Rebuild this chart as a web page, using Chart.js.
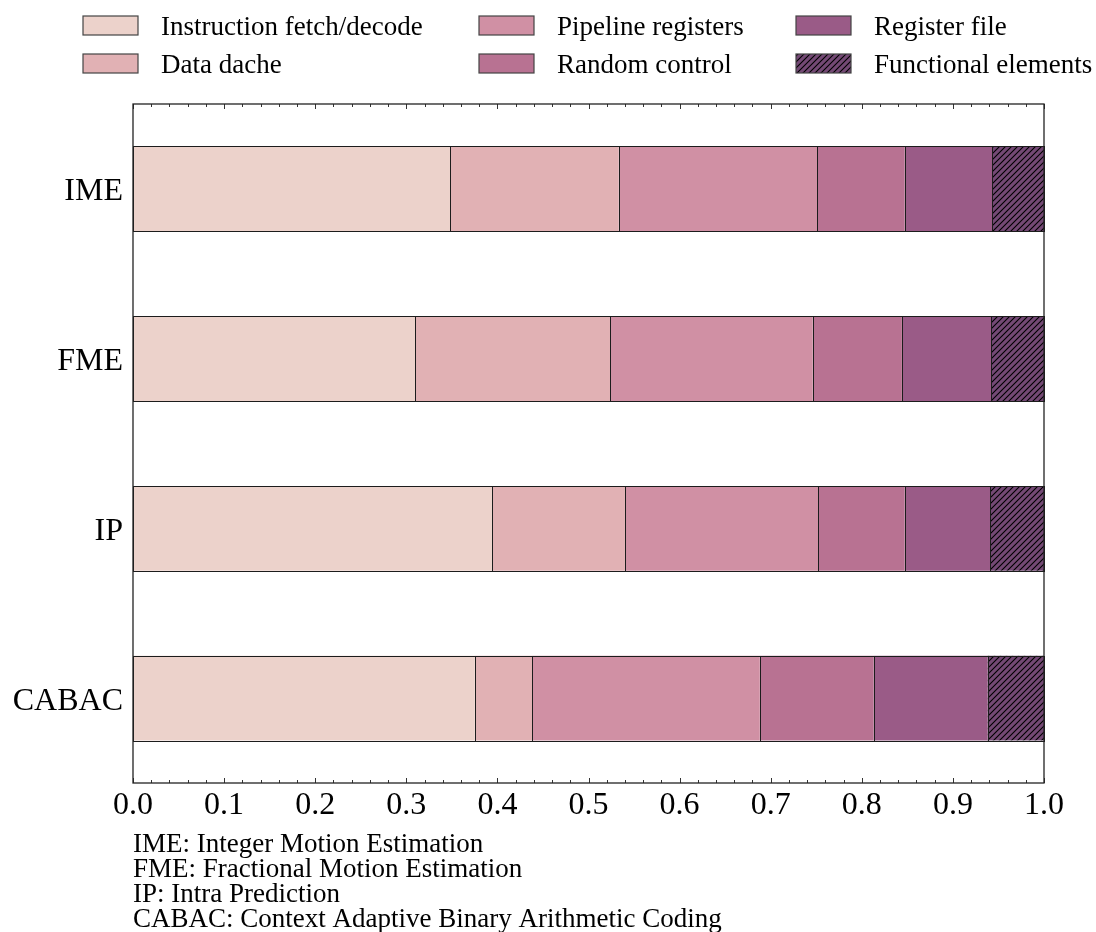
<!DOCTYPE html>
<html>
<head>
<meta charset="utf-8">
<script src="https://cdn.jsdelivr.net/npm/chart.js@4/dist/chart.umd.min.js"></script>
<style>
  html, body { margin: 0; padding: 0; background: #fff; }
  #wrap { width: 1096px; height: 932px; }
</style>
</head>
<body>
<div id="wrap"><canvas id="c" width="1096" height="932"></canvas></div>
<script>
// Area breakdown per processing module (fractions of total)
const modules = ['IME', 'FME', 'IP', 'CABAC'];
const componentNames = ['Instruction fetch/decode', 'Data dache', 'Pipeline registers',
                        'Random control', 'Register file', 'Functional elements'];
const instructionFetch = [0.348, 0.310, 0.394, 0.375];
const dataCache        = [0.185, 0.214, 0.146, 0.063];
const pipelineRegs     = [0.218, 0.222, 0.212, 0.250];
const randomControl    = [0.096, 0.098, 0.095, 0.125];
const registerFile     = [0.096, 0.098, 0.094, 0.125];
const functionalElems  = [0.057, 0.058, 0.059, 0.062];
const xTicks = [0.0, 0.1, 0.2, 0.3, 0.4, 0.5, 0.6, 0.7, 0.8, 0.9, 1.0];
const footnotes = [
  'IME: Integer Motion Estimation',
  'FME: Fractional Motion Estimation',
  'IP: Intra Prediction',
  'CABAC: Context Adaptive Binary Arithmetic Coding'
];

const palette = ['#ecd2cb', '#e1b1b4', '#d090a4', '#b87292', '#9a5b87', '#744975'];
const FONT = "'Liberation Serif', 'Times New Roman', serif";

// diagonal hatch fill for the last component
function makeHatch(bg) {
  const s = 6;
  const t = document.createElement('canvas');
  t.width = s; t.height = s;
  const g = t.getContext('2d');
  g.fillStyle = bg;
  g.fillRect(0, 0, s, s);
  g.strokeStyle = '#000';
  g.lineWidth = 1.1;
  g.beginPath();
  g.moveTo(-1, s + 1); g.lineTo(s + 1, -1);
  g.moveTo(-1, 1); g.lineTo(1, -1);
  g.moveTo(s - 1, s + 1); g.lineTo(s + 1, s - 1);
  g.stroke();
  return g.createPattern(t, 'repeat');
}
const hatch = makeHatch(palette[5]);

const seriesValues = [instructionFetch, dataCache, pipelineRegs, randomControl, registerFile, functionalElems];
const datasets = seriesValues.map((vals, i) => ({
  label: componentNames[i],
  data: vals,
  backgroundColor: i === 5 ? hatch : palette[i],
  borderWidth: 0,
  categoryPercentage: 1.0,
  barPercentage: 0.5
}));

// crisp dark outlines around every bar segment, using the bar elements' geometry
const barOutlines = {
  id: 'barOutlines',
  afterDatasetsDraw(chart) {
    const ctx = chart.ctx;
    ctx.save();
    ctx.strokeStyle = '#1c1c1c';
    ctx.lineWidth = 1;
    chart.data.datasets.forEach((ds, di) => {
      chart.getDatasetMeta(di).data.forEach(bar => {
        const p = bar.getProps(['x', 'y', 'base', 'height'], true);
        const x0 = Math.round(Math.min(p.base, p.x)) + 0.5;
        const x1 = Math.round(Math.max(p.base, p.x)) + 0.5;
        const y0 = Math.round(p.y - p.height / 2) + 0.5;
        const y1 = Math.round(p.y + p.height / 2) + 0.5;
        ctx.strokeRect(x0, y0, x1 - x0, y1 - y0);
      });
    });
    ctx.restore();
  }
};

// frame, inward ticks, legend and footnote
const decorations = {
  id: 'decorations',
  afterDraw(chart) {
    const ctx = chart.ctx;
    const a = chart.chartArea;
    const xs = chart.scales.x;
    ctx.save();
    // inward ticks on top and bottom
    ctx.strokeStyle = '#333';
    ctx.lineWidth = 1;
    for (let k = 0; k <= 50; k++) {
      const v = k / 50;
      const px = Math.round(xs.getPixelForValue(v)) + 0.5;
      const len = (k % 5 === 0) ? 5 : 3;
      ctx.beginPath();
      ctx.moveTo(px, a.bottom); ctx.lineTo(px, a.bottom - len);
      ctx.moveTo(px, a.top); ctx.lineTo(px, a.top + len);
      ctx.stroke();
    }
    // axes frame
    ctx.lineWidth = 1.3;
    ctx.strokeStyle = '#222';
    ctx.strokeRect(a.left, a.top, a.right - a.left, a.bottom - a.top);

    // legend: 3 columns x 2 rows, filled column-wise
    const colX = [83, 479, 796];
    const rowY = [16, 54];
    ctx.font = '27px ' + FONT;
    ctx.textBaseline = 'alphabetic';
    ctx.textAlign = 'left';
    chart.data.datasets.forEach((ds, i) => {
      const c = Math.floor(i / 2), r = i % 2;
      const x = colX[c], y = rowY[r];
      ctx.fillStyle = ds.backgroundColor;
      ctx.fillRect(x, y, 55, 19);
      ctx.strokeStyle = '#444';
      ctx.lineWidth = 1.2;
      ctx.strokeRect(x, y, 55, 19);
      ctx.fillStyle = '#000';
      ctx.fillText(ds.label, x + 78, y + 19);
    });

    // footnote
    ctx.font = '27px ' + FONT;
    ctx.fillStyle = '#000';
    footnotes.forEach((t, i) => ctx.fillText(t, a.left, 852 + i * 25));
    ctx.restore();
  }
};

new Chart(document.getElementById('c'), {
  type: 'bar',
  data: { labels: modules, datasets },
  options: {
    indexAxis: 'y',
    responsive: false,
    animation: false,
    layout: { padding: { left: 0, right: 52, top: 104, bottom: 109 } },
    plugins: { legend: { display: false }, tooltip: { enabled: false } },
    scales: {
      x: {
        stacked: true,
        min: 0, max: 1,
        afterBuildTicks(scale) { scale.ticks = xTicks.map(v => ({ value: v })); },
        afterFit(scale) { scale.height = 40; },
        grid: { display: false, drawTicks: false },
        border: { display: false },
        ticks: {
          autoSkip: false,
          maxRotation: 0,
          padding: 3,
          color: '#000',
          font: { family: FONT, size: 32 },
          callback: v => Number(v).toFixed(1)
        }
      },
      y: {
        stacked: true,
        offset: true,
        afterFit(scale) { scale.width = 133; },
        grid: { display: false, drawTicks: false },
        border: { display: false },
        ticks: {
          padding: 10,
          labelOffset: 3,
          color: '#000',
          font: { family: FONT, size: 32 }
        }
      }
    }
  },
  plugins: [barOutlines, decorations]
});
</script>
</body>
</html>
